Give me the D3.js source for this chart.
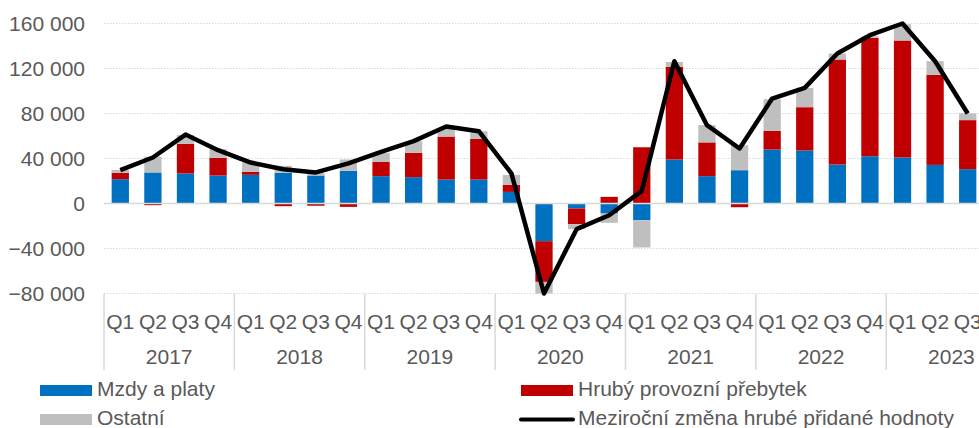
<!DOCTYPE html>
<meta charset="utf-8">
<style>
  body { margin: 0; background: #fff; }
  svg { display: block; font-family: "Liberation Sans", Arial, sans-serif; }
</style>
<svg id="chart"></svg>
<script src="https://d3js.org/d3.v7.min.js"></script>
<script>

// data
var years = ["2017", "2018", "2019", "2020", "2021", "2022", "2023"];
var quarters = ["Q1", "Q2", "Q3", "Q4"];
var periods = [];
years.forEach(function(y) {
  quarters.forEach(function(q) { periods.push(y + " " + q); });
});
periods = periods.slice(0, 27); // ends with 2023 Q3

var mzdy = [21600, 27600, 26700, 24900, 25500, 27300, 24900, 29000, 24300, 23400, 21300, 21300,
  10300, -33500, -4400, -8900, -14800, 39100, 24300, 29600, 48000, 47100, 34700, 42000, 40900, 34300, 30500];
var prebytek = [5600, -1500, 26400, 15700, 2700, -2400, -2000, -3000, 12700, 21600, 38200, 36100,
  6200, -36200, -14000, 5900, 50000, 82300, 30000, -3300, 16500, 38500, 93300, 105200, 104000, 80000, 43600];
var ostatni = [2700, 14000, 7700, 7700, 8300, 6200, 2300, 10100, 8000, 10400, 7700, 6800,
  8900, -10300, -4400, -8300, -24300, 4400, 15400, 22200, 28200, 17200, 5300, 1500, 14500, 12200, 6000];
var hph = [29600, 40900, 61300, 47400, 36400, 30500, 27600, 35600, 45900, 55400, 68500, 64300,
  26700, -80000, -22800, -10400, 11200, 126500, 69600, 48900, 93300, 102800, 133300, 149600, 160000, 126500, 80000];
var yTicks = [-80000, -40000, 0, 40000, 80000, 120000, 160000];

var seriesKeys = ["mzdy", "prebytek", "ostatni"];
var colors = { mzdy: "#0070C0", prebytek: "#C00000", ostatni: "#BFBFBF" };

var width = 979, height = 428;
var fontSize = 21;
var svg = d3.select("#chart").attr("width", width).attr("height", height);

var x = d3.scaleBand().domain(periods).range([104, 984]).paddingInner(0.47).paddingOuter(0.235);
var y = d3.scaleLinear().domain([-80000, 160000]).range([293.5, 23.5]);

var rows = periods.map(function(p, i) {
  return { period: p, mzdy: mzdy[i], prebytek: prebytek[i], ostatni: ostatni[i] };
});

var fmt = function(v) { return d3.format(",")(v).replace(/,/g, "\u00a0"); };

// gridlines
svg.append("g")
  .selectAll("line")
  .data(yTicks.filter(function(t) { return t !== 0; }))
  .enter().append("line")
  .attr("x1", 104).attr("x2", width)
  .attr("y1", function(d) { return y(d); }).attr("y2", function(d) { return y(d); })
  .attr("stroke", "#d9d9d9").attr("stroke-width", 1).attr("stroke-dasharray", "1.5,1.5");

// y labels
svg.append("g")
  .selectAll("text")
  .data(yTicks)
  .enter().append("text")
  .attr("x", 85).attr("y", function(d) { return y(d); })
  .attr("dy", "0.35em").attr("text-anchor", "end")
  .attr("fill", "#595959").attr("font-size", fontSize)
  .text(fmt);

// stacked bars
var stack = d3.stack().keys(seriesKeys).offset(d3.stackOffsetDiverging);
var layers = stack(rows);

svg.append("g")
  .selectAll("g")
  .data(layers)
  .enter().append("g")
  .attr("fill", function(d) { return colors[d.key]; })
  .selectAll("rect")
  .data(function(d) { return d; })
  .enter().append("rect")
  .attr("x", function(d) { return x(d.data.period); })
  .attr("width", x.bandwidth())
  .attr("y", function(d) { return y(Math.max(d[0], d[1])); })
  .attr("height", function(d) { return Math.abs(y(d[0]) - y(d[1])); });

// zero line
svg.append("line")
  .attr("x1", 104).attr("x2", width)
  .attr("y1", y(0)).attr("y2", y(0))
  .attr("stroke", "#d9d9d9").attr("stroke-width", 1.5);

// line series
var line = d3.line()
  .x(function(d, i) { return x(periods[i]) + x.bandwidth() / 2; })
  .y(function(d) { return y(d); });

svg.append("path")
  .datum(hph)
  .attr("d", line)
  .attr("fill", "none")
  .attr("stroke", "#000")
  .attr("stroke-width", 4.5)
  .attr("stroke-linejoin", "round");

// category axis: quarter + year labels, year separators
var step = x.step();
var axis = svg.append("g");
periods.forEach(function(p, i) {
  axis.append("text")
    .attr("x", x(p) + x.bandwidth() / 2)
    .attr("y", 322).attr("dy", "0.35em")
    .attr("text-anchor", "middle")
    .attr("fill", "#595959").attr("font-size", fontSize)
    .text(p.split(" ")[1]);
});
years.forEach(function(yr, j) {
  var x0 = 104 + j * 4 * step;
  axis.append("line")
    .attr("x1", x0).attr("x2", x0).attr("y1", 294).attr("y2", 370)
    .attr("stroke", "#d9d9d9").attr("stroke-width", 1.5);
  axis.append("text")
    .attr("x", x0 + 2 * step).attr("y", 357).attr("dy", "0.35em")
    .attr("text-anchor", "middle")
    .attr("fill", "#595959").attr("font-size", fontSize)
    .text(yr);
});

// legend
var legend = [
  { label: "Mzdy a platy", color: colors.mzdy, type: "rect", x: 40, y: 390.5 },
  { label: "Hrubý provozní přebytek", color: colors.prebytek, type: "rect", x: 521, y: 390.5 },
  { label: "Ostatní", color: colors.ostatni, type: "rect", x: 40, y: 419.5 },
  { label: "Meziroční změna hrubé přidané hodnoty", color: "#000", type: "line", x: 521, y: 419.5 }
];
var lg = svg.append("g").selectAll("g").data(legend).enter().append("g");
lg.each(function(d) {
  var g = d3.select(this);
  if (d.type === "rect") {
    g.append("rect").attr("x", d.x).attr("y", d.y - 5.5).attr("width", 52).attr("height", 11).attr("fill", d.color);
  } else {
    g.append("line").attr("x1", d.x).attr("x2", d.x + 52).attr("y1", d.y).attr("y2", d.y)
      .attr("stroke", d.color).attr("stroke-width", 4).attr("stroke-linecap", "round");
  }
  g.append("text").attr("x", d.x + 57).attr("y", d.y).attr("dy", "0.28em")
    .attr("fill", "#595959").attr("font-size", fontSize).text(d.label);
});

</script>
